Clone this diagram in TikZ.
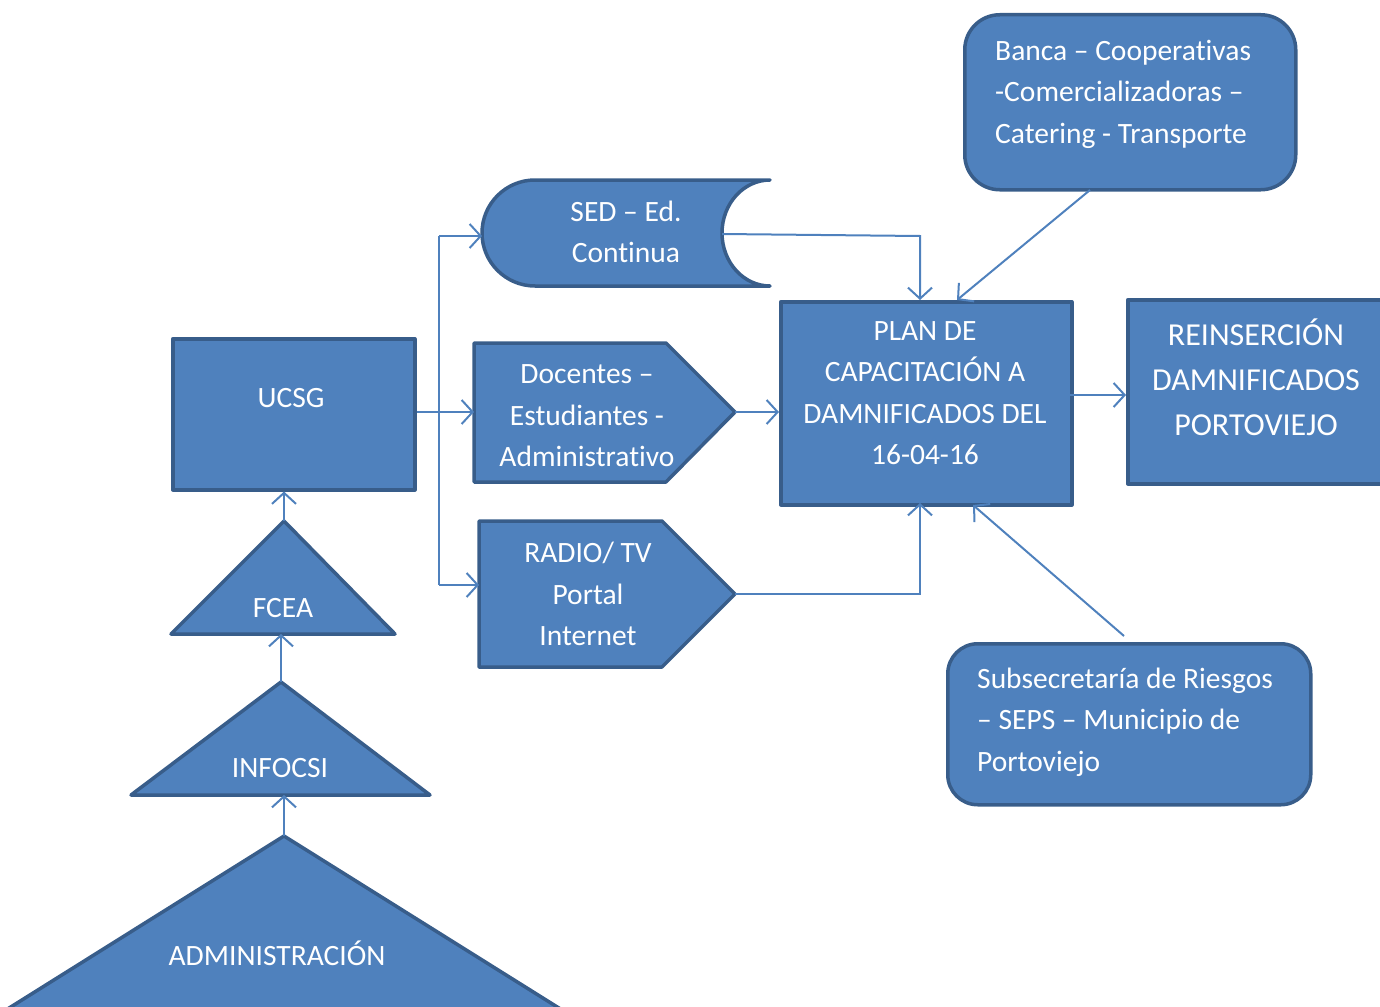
\documentclass[tikz,border=0pt]{standalone}
\usepackage{fontspec}
\setmainfont{Carlito}[Ligatures=NoCommon]
\usetikzlibrary{arrows.meta}
\definecolor{fillb}{HTML}{4F81BD}
\definecolor{edgeb}{HTML}{385D8A}
\begin{document}
\begin{tikzpicture}[x=1pt,y=-1pt,
 shapebox/.style={fill=fillb,draw=edgeb,line width=3.5pt,line join=round},
 lbl/.style={text=white,align=center,font=\fontsize{29.5}{41.5}\selectfont,inner sep=0pt},
 lbll/.style={text=white,align=left,font=\fontsize{29.5}{41.5}\selectfont,inner sep=0pt,anchor=west},
 conn/.style={draw=fillb,line width=2pt,-{Straight Barb[length=11pt,width=24pt]}},
 plainln/.style={draw=fillb,line width=2pt}]
\useasboundingbox (0,0) rectangle (1380,1006);
\clip (0,0) rectangle (1380,1006);

% triangles
\path[shapebox] (284,836) coordinate (admin-top) -- (626,1050) -- (-58,1050) -- cycle;
\node[lbl] (admint) at (277,953) {ADMINISTRACIÓN};
\path[shapebox] (281,682) coordinate (infocsi-top) -- (430,795) -- (131,795) -- cycle;
\coordinate (infocsi-base) at (284,795);
\node[lbl] (infocsit) at (280,768) {INFOCSI};
\path[shapebox] (284,521) coordinate (fcea-top) -- (395,634) -- (171,634) -- cycle;
\coordinate (fcea-base) at (281,634);
\node[lbl] (fceat) at (283,608) {FCEA};

% UCSG
\node[shapebox,rectangle,minimum width=242pt,minimum height=151pt,anchor=north west,inner sep=0pt] (ucsg) at (171,337) {};
\node[lbl] (ucsgt) at (291,398) {UCSG};

% SED
\path[shapebox] (770,180) -- (535,180) arc[start angle=270,end angle=90,radius=53]
  -- (770,286) arc[start angle=90,end angle=270,x radius=48,y radius=53] -- cycle;
\coordinate (sed-l) at (482,236);
\coordinate (sed-r) at (722,234);
\node[lbl] (sedt) at (626,232) {SED – Ed.\\Continua};

% Docentes
\path[shapebox] (474,343) -- (666,343) -- (735,412) coordinate (doc-tip) -- (666,482) -- (474,482) -- cycle;
\coordinate (doc-l) at (474,412);
\node[lbl] (doct) at (587,416) {Docentes –\\Estudiantes -\\Administrativo};

% Radio
\path[shapebox] (479,521) -- (662,521) -- (735,594) coordinate (radio-tip) -- (662,667) -- (479,667) -- cycle;
\coordinate (radio-l) at (479,585);
\node[lbl] (radiot) at (588,594) {RADIO/ TV\\Portal\\Internet};

% Plan
\node[shapebox,rectangle,minimum width=291pt,minimum height=203pt,anchor=north west,inner sep=0pt] (plan) at (779,300) {};
\node[lbl] (plant) at (925,393) {PLAN DE\\CAPACITACIÓN A\\DAMNIFICADOS DEL\\16-04-16};
\coordinate (plan-t1) at (920,300);
\coordinate (plan-t2) at (957,300);
\coordinate (plan-b1) at (920,503);
\coordinate (plan-b2) at (973,505);
\coordinate (plan-r) at (1070,395);

% Reinsercion
\node[shapebox,rectangle,minimum width=300pt,minimum height=184pt,anchor=north west,inner sep=0pt] (reins) at (1126,298) {};
\coordinate (reins-l) at (1126,395);
\node[lbl,font=\fontsize{32}{45}\selectfont] (reinst) at (1256,377) {REINSERCIÓN\\DAMNIFICADOS\\PORTOVIEJO};

% Banca
\node[shapebox,rectangle,rounded corners=35pt,minimum width=331pt,minimum height=175pt,anchor=north west,inner sep=0pt] (banca) at (963,13) {};
\coordinate (banca-b) at (1090,190);
\node[lbll] (bancat) at (995,94) {Banca – Cooperativas\\-Comercializadoras –\\Catering - Transporte};

% Subsecretaria
\node[shapebox,rectangle,rounded corners=30pt,minimum width=363pt,minimum height=161pt,anchor=north west,inner sep=0pt] (subs) at (946,642) {};
\coordinate (subs-t) at (1124,636);
\node[lbll] (subst) at (977,722) {Subsecretaría de Riesgos\\– SEPS – Municipio de\\Portoviejo};

% connectors
\draw[conn] (admin-top) -- (infocsi-base);
\draw[conn] (infocsi-top) -- (fcea-base);
\draw[conn] (fcea-top) -- (fcea-top |- ucsg.south);
\coordinate (br) at (439,412);
\draw[conn] (ucsg.east |- doc-l) -- (doc-l);
\draw[plainln] (br |- sed-l) -- (br |- radio-l);
\draw[conn] (br |- sed-l) -- (sed-l);
\draw[conn] (br |- radio-l) -- (radio-l);
\draw[conn] (doc-tip) -- (doc-tip -| plan.west);
\draw[conn] (sed-r) -- (920,236) -- (plan-t1);
\draw[conn] (radio-tip) -- (plan-b1 |- radio-tip) -- (plan-b1);
\draw[conn] (plan-r) -- (reins-l);
\draw[conn] (banca-b) -- (plan-t2);
\draw[conn] (subs-t) -- (plan-b2);
\end{tikzpicture}
\end{document}
